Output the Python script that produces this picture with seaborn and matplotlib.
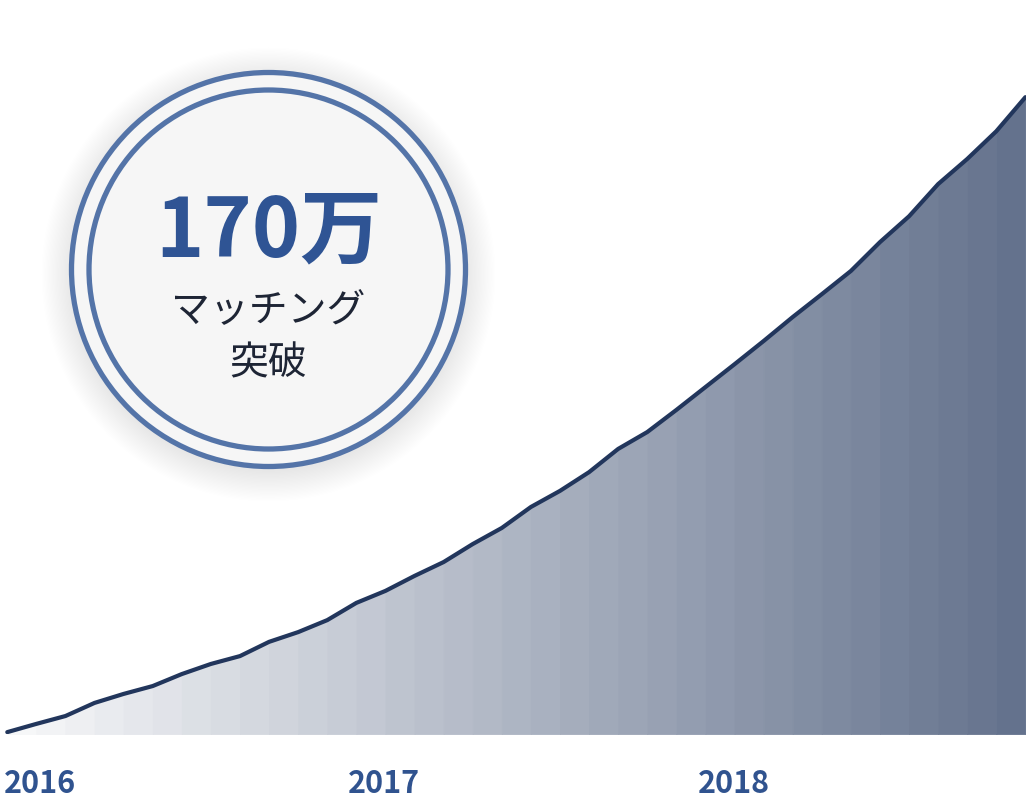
import numpy as np
import matplotlib
matplotlib.use("Agg")
import matplotlib.pyplot as plt
import matplotlib.transforms as mtransforms
from matplotlib.patches import Circle
from matplotlib.colors import to_rgb
import seaborn as sns

# cumulative matches (万), monthly from Jan 2016 to Dec 2018
month_idx = list(range(36))
matches = [0.5, 2.7, 4.8, 8.3, 10.7, 12.8, 16.0, 18.7, 20.8, 24.6, 27.2, 30.4,
           35.0, 38.2, 42.2, 45.9, 50.7, 55.0, 60.6, 64.9, 69.9, 76.1, 80.6, 86.5,
           92.6, 98.7, 104.9, 111.3, 117.4, 123.6, 131.3, 138.2, 146.8, 153.5, 160.9, 170.0]
year_labels = ["2016", "2017", "2018"]
year_pos = [0, 12, 24]
badge_number = "170万"
badge_text = "マッチング\n突破"

line_color = "#22365c"
blue = "#30538f"

sns.set_theme(style="white")
plt.rcParams['font.family'] = ['Noto Sans CJK JP', 'DejaVu Sans']

fig = plt.figure(figsize=(10.26, 8.04), dpi=100)
fig.patch.set_facecolor("white")
ax = fig.add_axes([0, 69 / 804, 1, 735 / 804])

# banded gradient fill, one shade per month
base = np.array(to_rgb(line_color))
white = np.ones(3)
n = len(month_idx) - 1
for i in range(n):
    a = 0.04 + 0.66 * i / (n - 1)
    c = white * (1 - a) + base * a
    ax.fill_between(month_idx[i:i + 2], matches[i:i + 2], 0,
                    facecolor=c, edgecolor=c, linewidth=0.6, zorder=1)

sns.lineplot(x=month_idx, y=matches, ax=ax, color=line_color, linewidth=3,
             zorder=3, solid_joinstyle="round", solid_capstyle="round")

ax.set_xlim(-0.25, 35.02)
ax.set_ylim(0, 196.2)
ax.axis("off")

off = mtransforms.offset_copy(ax.transData, fig=fig, x=-8, y=0, units="dots")
for pos, lab in zip(year_pos, year_labels):
    ax.text(max(pos, 0.15), -13.1, lab, transform=off, ha="left", va="center",
            fontsize=22, fontweight="bold", color=blue, clip_on=False)

# badge overlay in pixel coordinates
ov = fig.add_axes([0, 0, 1, 1])
ov.set_xlim(0, 1026)
ov.set_ylim(804, 0)
ov.axis("off")

cx, cy, r = 268.5, 270.5, 197
for k in range(24):
    ov.add_patch(Circle((cx, cy + 5), r + 30 - k * 1.3, facecolor="black",
                        edgecolor="none", alpha=0.004, zorder=1))
ov.add_patch(Circle((cx, cy), r, facecolor="#f6f6f6", edgecolor="#5474a8",
                    linewidth=3.8, zorder=2))
ov.add_patch(Circle((cx, cy), 179.5, facecolor="none", edgecolor="#5474a8",
                    linewidth=3.8, zorder=3))

ov.text(cx, 233, badge_number, ha="center", va="center", fontsize=59,
        fontweight="bold", color="#2f5494", zorder=4)
ov.text(cx, 337, badge_text, ha="center", va="center", fontsize=28,
        color="#1e2535", linespacing=1.4, zorder=4)

fig.savefig("out.png", dpi=100, facecolor="white")
